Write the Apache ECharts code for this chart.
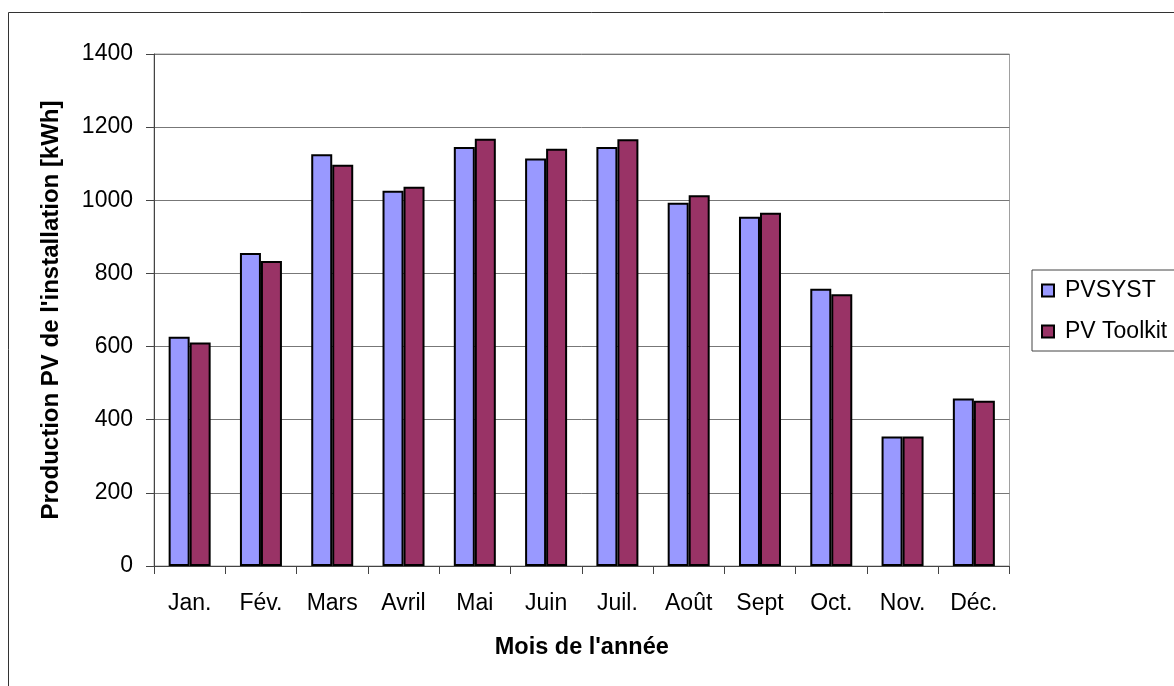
<!DOCTYPE html>
<html>
<head>
<meta charset="utf-8">
<script src="https://cdn.jsdelivr.net/npm/echarts@6/dist/echarts.min.js"></script>
<style>
  html, body { margin: 0; padding: 0; background: #fff; }
  #main { width: 1174px; height: 686px; }
</style>
</head>
<body>
<div id="main"></div>
<script>
// données
var mois = ['Jan.', 'Fév.', 'Mars', 'Avril', 'Mai', 'Juin', 'Juil.', 'Août', 'Sept', 'Oct.', 'Nov.', 'Déc.']
var pvsyst = [627, 856, 1126, 1026, 1146, 1114, 1146, 993, 955, 758, 354, 458]
var pvToolkit = [611, 834, 1097, 1037, 1168, 1141, 1167, 1014, 966, 743, 354, 452]

var police = 'Liberation Sans, Arial, sans-serif'

var myChart = echarts.init(document.getElementById('main'))

myChart.setOption({
  animation: false,
  textStyle: { fontFamily: police, color: '#000' },
  graphic: [
    {
      type: 'rect',
      shape: { x: 8.5, y: 12.5, width: 1300, height: 800 },
      style: { fill: 'none', stroke: '#333', lineWidth: 1 },
      silent: true
    }
  ],
  grid: {
    left: 154,
    right: 164.5,
    top: 54,
    bottom: 120,
    show: true,
    borderColor: '#a0a0a0',
    borderWidth: 1
  },
  legend: {
    orient: 'vertical',
    left: 1032,
    top: 270,
    padding: [9, 30, 8, 9],
    borderColor: '#444',
    borderWidth: 1,
    itemWidth: 12,
    itemHeight: 12,
    itemGap: 18,
    icon: 'rect',
    textStyle: { fontSize: 23, fontFamily: police, color: '#000', padding: [0, 0, 0, 6] },
    data: ['PVSYST', 'PV Toolkit']
  },
  xAxis: {
    type: 'category',
    data: mois,
    name: "Mois de l'année",
    nameLocation: 'middle',
    nameGap: 70,
    nameTextStyle: { fontSize: 23.5, fontWeight: 'bold', fontFamily: police, color: '#000' },
    axisLine: { lineStyle: { color: '#444', width: 1 } },
    axisTick: { show: true, length: 8, lineStyle: { color: '#444' } },
    axisLabel: { fontSize: 23, margin: 26, color: '#000', fontFamily: police }
  },
  yAxis: {
    type: 'value',
    min: 0,
    max: 1400,
    interval: 200,
    name: "Production PV de l'installation [kWh]",
    nameLocation: 'middle',
    nameGap: 91,
    nameTextStyle: { fontSize: 24, fontWeight: 'bold', fontFamily: police, color: '#000' },
    axisLine: { show: true, lineStyle: { color: '#444', width: 1 } },
    axisTick: { show: true, length: 8, lineStyle: { color: '#444' } },
    axisLabel: {
      fontSize: 23,
      margin: 21,
      color: '#000',
      fontFamily: police,
      formatter: function (v) { return String(v) }
    },
    splitLine: { lineStyle: { color: '#777', width: 1 } }
  },
  series: [
    {
      name: 'PVSYST',
      type: 'bar',
      data: pvsyst,
      barWidth: 21,
      barGap: '0%',
      itemStyle: { color: '#9999ff', borderColor: '#000', borderWidth: 2 }
    },
    {
      name: 'PV Toolkit',
      type: 'bar',
      data: pvToolkit,
      barWidth: 21,
      itemStyle: { color: '#993366', borderColor: '#000', borderWidth: 2 }
    }
  ]
})
</script>
</body>
</html>
